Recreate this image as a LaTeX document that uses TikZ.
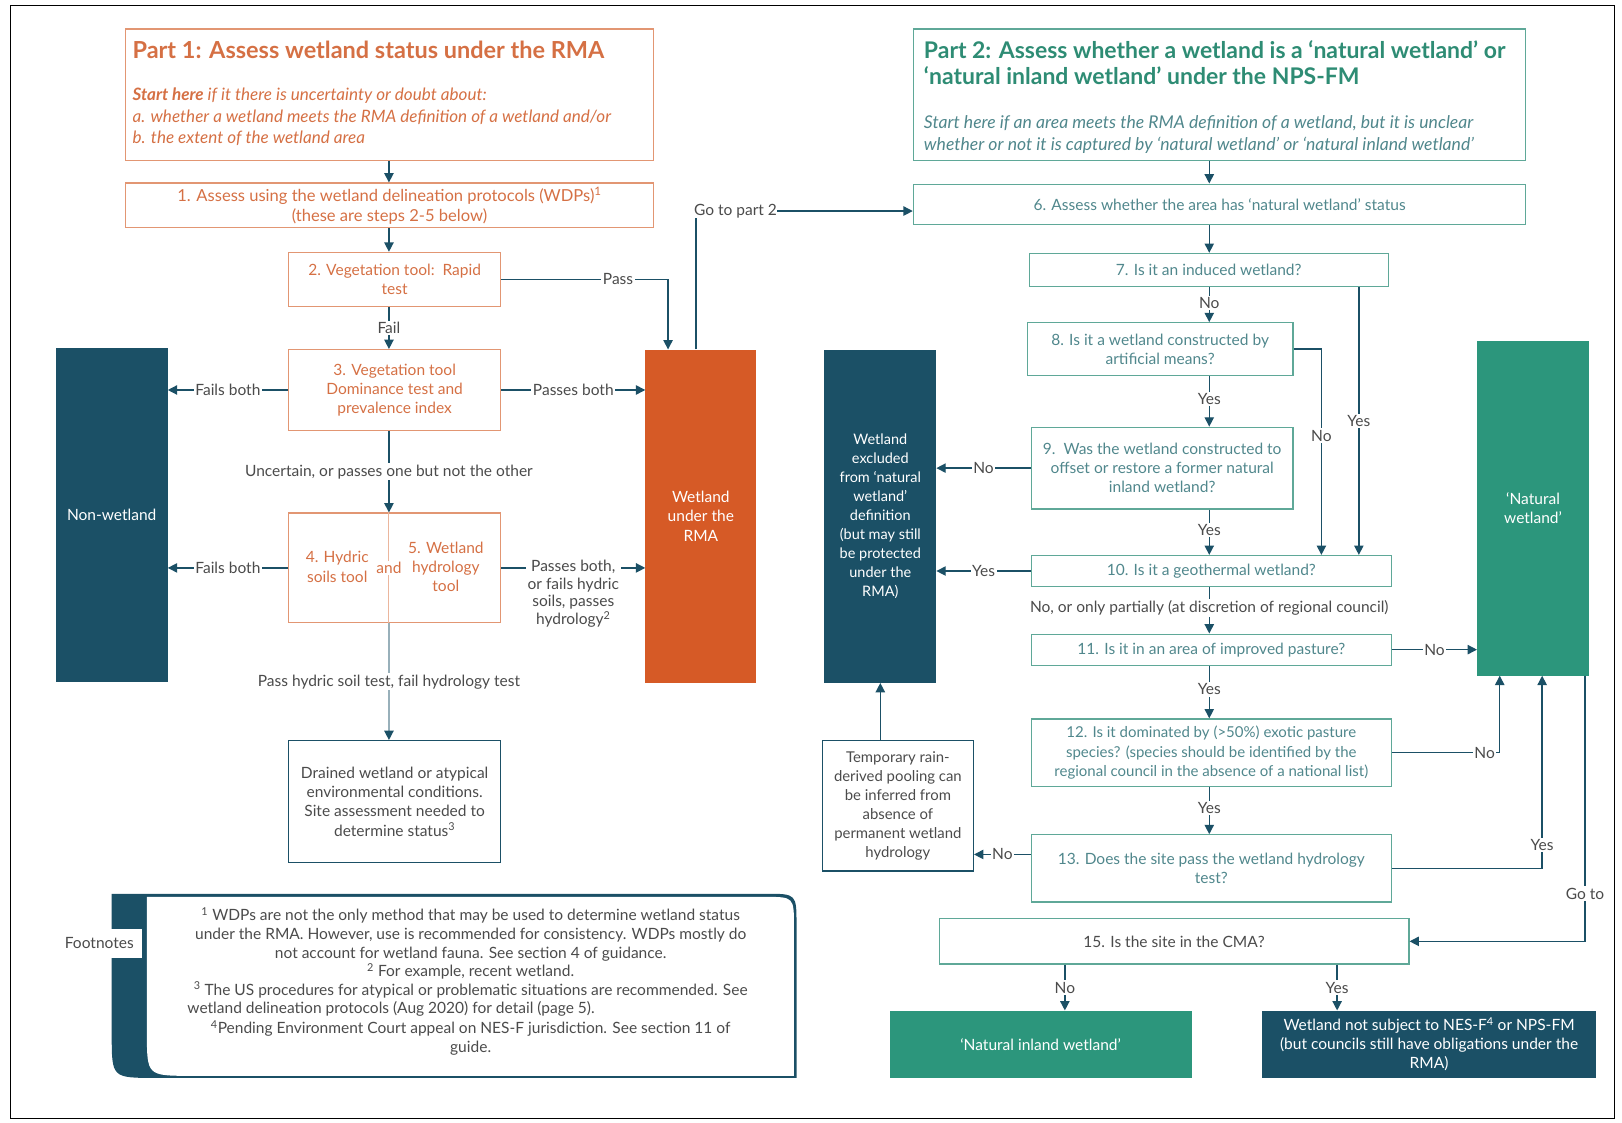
\documentclass[tikz,border=0pt]{standalone}
\usepackage{fontspec}
\setmainfont{Lato}
\usetikzlibrary{arrows.meta}
\definecolor{dkteal}{RGB}{27,80,102}
\definecolor{rmaorange}{RGB}{214,90,38}
\definecolor{orangetxt}{RGB}{213,112,68}
\definecolor{orangeln}{RGB}{226,150,115}
\definecolor{natgreen}{RGB}{44,150,124}
\definecolor{greenln}{RGB}{95,168,152}
\definecolor{greentxt}{RGB}{46,140,116}
\definecolor{boxtxt}{RGB}{80,135,140}
\definecolor{greytxt}{RGB}{75,75,75}

\begin{document}
\begin{tikzpicture}
  [x=1pt,y=-1pt,
   every node/.style={inner sep=0pt,align=center,font=\fontsize{15}{18.5}\selectfont},
   sz/.style 2 args={minimum width=#1pt,minimum height=#2pt},
   obox/.style={draw=orangeln,line width=1.2pt,text=orangetxt},
   gbox/.style={draw=greenln,line width=1.2pt,text=boxtxt},
   dbox/.style={draw=dkteal,line width=1.2pt,text=greytxt},
   lbl/.style={fill=white,text=greytxt,inner sep=1.5pt,font=\fontsize{15}{17}\selectfont},
   arr/.style={draw=dkteal,line width=1.3pt,-{Triangle[length=9pt,width=9pt,color=dkteal]}},
   ln/.style={draw=dkteal,line width=1.3pt}]
  \useasboundingbox (0,0) rectangle (1568,1085);
  \draw[line width=1pt] (10,5) rectangle (1561,1081);
  \coordinate (lspine) at (376,0);
  \coordinate (spine) at (1169,0);

  \node[obox,sz={511}{127}] (p1) at (376.5,91.5) {};
  \node[anchor=west,text=orangetxt,font=\bfseries\fontsize{22.7}{25}\selectfont] (p1title) at (128,48) {Part 1: Assess wetland status under the RMA};
  \node[anchor=west,align=left,text=orangetxt,font=\itshape\fontsize{16.5}{20.5}\selectfont] (p1start) at (128,113)
    {\textbf{Start here} if it there is uncertainty or doubt about:\\a. whether a wetland meets the RMA definition of a wetland and/or\\b. the extent of the wetland area};
  \node[obox,sz={511}{43},font=\fontsize{16}{19}\selectfont] (s1) at (376.5,198.5) {1. Assess using the wetland delineation protocols (WDPs)\textsuperscript{1}\\(these are steps 2-5 below)};
  \node[obox,sz={205}{52}] (s2) at (381.5,270) {2. Vegetation tool:\ \ Rapid\\test};
  \node[obox,sz={205}{78}] (s3) at (381.5,377) {3. Vegetation tool\\Dominance test and\\prevalence index};
  \node[obox,sz={205}{106}] (s45) at (381.5,549) {};
  \draw[orangeln!70,line width=1pt] (s45.north -| lspine) -- (s45.south -| lspine);
  \node[text=orangetxt] (s4) at (326,548) {4. Hydric\\soils tool};
  \node[text=orangetxt] (s5) at (431,548) {5. Wetland\\hydrology\\tool};
  \node[text=orangetxt,fill=white,inner sep=1pt] (sand) at (376,549) {and};
  \node[dbox,sz={205}{118}] (drained) at (381.5,775) {Drained wetland or atypical\\environmental conditions.\\Site assessment needed to\\determine status\textsuperscript{3}};
  \node[fill=dkteal,text=white,sz={108}{323}] (nonwet) at (108,497.5) {Non-wetland};
  \node[fill=rmaorange,text=white,sz={107}{322}] (wrma) at (677.5,499) {Wetland\\under the\\RMA};

  \node[gbox,sz={592}{127}] (p2) at (1179,91.5) {};
  \node[anchor=west,align=left,text=greentxt,font=\bfseries\fontsize{22.2}{25}\selectfont] (p2title) at (893,60.5)
    {Part 2: Assess whether a wetland is a `natural wetland' or\\`natural inland wetland' under the NPS-FM};
  \node[anchor=west,align=left,text=boxtxt,font=\itshape\fontsize{17}{20.5}\selectfont] (p2start) at (893,130)
    {Start here if an area meets the RMA definition of a wetland, but it is unclear\\whether or not it is captured by `natural wetland' or `natural inland wetland'};
  \node[gbox,sz={592}{39}] (s6) at (1179,197.5) {6. Assess whether the area has `natural wetland' status};
  \node[gbox,sz={347}{32}] (s7) at (1168.5,261) {7. Is it an induced wetland?};
  \node[gbox,sz={257}{51}] (s8) at (1121.5,337.5) {8. Is it a wetland constructed by\\artificial means?};
  \node[gbox,sz={253}{79}] (s9) at (1123.5,452.5) {9.\ \ Was the wetland constructed to\\offset or restore a former natural\\inland wetland?};
  \node[gbox,sz={348}{30}] (s10) at (1171,552) {10. Is it a geothermal wetland?};
  \node[gbox,sz={348}{30}] (s11) at (1171,628) {11. Is it in an area of improved pasture?};
  \node[gbox,sz={348}{65},font=\fontsize{14.5}{18.5}\selectfont] (s12) at (1171,727.5) {12. Is it dominated by (>50\%) exotic pasture\\species? (species should be identified by the\\regional council in the absence of a national list)};
  \node[gbox,sz={348}{65}] (s13) at (1171,839.5) {13. Does the site pass the wetland hydrology\\test?};
  \node[gbox,sz={454}{44},text=greytxt] (s15) at (1135,910) {15. Is the site in the CMA?};
  \node[fill=dkteal,text=white,sz={108}{322},font=\fontsize{14}{18.3}\selectfont] (excl) at (851,499) {Wetland\\excluded\\from `natural\\wetland'\\definition\\(but may still\\be protected\\under the\\RMA)};
  \node[fill=natgreen,text=white,sz={108}{323}] (natw) at (1482,491.5) {`Natural\\wetland'};
  \node[dbox,sz={146}{126},font=\fontsize{14.4}{18.4}\selectfont] (temp) at (868,779) {Temporary rain-\\derived pooling can\\be inferred from\\absence of\\permanent wetland\\hydrology};
  \node[fill=natgreen,text=white,sz={292}{65}] (natin) at (1006,1009.5) {`Natural inland wetland'};
  \node[fill=dkteal,text=white,sz={323}{65}] (notsub) at (1381.5,1009.5) {Wetland not subject to NES-F\textsuperscript{4} or NPS-FM\\(but councils still have obligations under the\\RMA)};

  \fill[dkteal] (108,864) -- (740,864) .. controls (770,864) .. (770,894) -- (770,1042) -- (150,1042) .. controls (108,1042) .. (108,1000) -- cycle;
  \fill[white] (142,867) -- (739,867) .. controls (767.5,867) .. (767.5,895.5) -- (767.5,1040) -- (185,1040) .. controls (142,1040) .. (142,998) -- cycle;
  \node[fill=white,text=greytxt,sz={83}{28}] (fnlabel) at (96,912) {Footnotes};
  \node[text=greytxt,font=\fontsize{15}{18}\selectfont] (fn1) at (455,921) {\textsuperscript{1} WDPs are not the only method that may be used to determine wetland status\\under the RMA. However, use is recommended for consistency. WDPs mostly do\\not account for wetland fauna. See section 4 of guidance.\\\textsuperscript{2} For example, recent wetland.\\\textsuperscript{3} The US procedures for atypical or problematic situations are recommended. See};
  \node[anchor=west,text=greytxt] (fn2) at (181,975) {wetland delineation protocols (Aug 2020) for detail (page 5).};
  \node[text=greytxt,font=\fontsize{15}{18}\selectfont] (fn3) at (455,1003) {\textsuperscript{4}Pending Environment Court appeal on NES-F jurisdiction. See section 11 of\\guide.};

  \draw[arr] (p1.south -| lspine) -- (s1.north -| lspine);
  \draw[arr] (s1.south -| lspine) -- (s2.north -| lspine);
  \foreach \from/\to/\txt in {s2/s3/Fail,s3/s45/{Uncertain, or passes one but not the other}}
    \draw[arr] (\from.south -| lspine) -- node[lbl]{\txt} (\to.north -| lspine);
  \draw[arr,draw=dkteal!45] (s45.south -| lspine) -- node[lbl]{Pass hydric soil test, fail hydrology test} (drained.north -| lspine);
  \draw[arr] (s2.east) -| node[lbl,pos=0.35]{Pass} ([xshift=22pt]wrma.north west);
  \draw[arr] (s3.west) -- node[lbl]{Fails both} (nonwet.east |- s3.west);
  \draw[arr] (s3.east) -- node[lbl]{Passes both} (wrma.west |- s3.east);
  \draw[arr] (s45.west) -- node[lbl]{Fails both} (nonwet.east |- s45.west);
  \draw[arr] (s45.east) -- node[lbl,anchor=north,yshift=9.5pt]{Passes both,\\or fails hydric\\soils, passes\\hydrology\textsuperscript{2}} (wrma.west |- s45.east);
  \node[lbl,inner sep=0pt] (gop2) at (711,204) {Go to part 2};
  \draw[ln] ([xshift=49pt]wrma.north west) -- ([xshift=49pt]wrma.north west |- gop2.south);
  \draw[arr] (gop2.east) -- (s6.west |- gop2.east);

  \draw[arr] (p2.south -| spine) -- (s6.north -| spine);
  \draw[arr] (s6.south -| spine) -- (s7.north -| spine);
  \foreach \from/\to/\txt in {s7/s8/No,s8/s9/Yes,s9/s10/Yes,s10/s11/{No, or only partially (at discretion of regional council)},s11/s12/Yes,s12/s13/Yes}
    \draw[arr] (\from.south -| spine) -- node[lbl,pos=0.45]{\txt} (\to.north -| spine);
  \draw[arr] (s9.west) -- node[lbl]{No} (excl.east |- s9.west);
  \draw[arr] (s10.west) -- node[lbl]{Yes} (excl.east |- s10.west);
  \draw[arr] (s8.east) -| node[lbl,pos=0.71]{No} ([xshift=281pt]s10.north west);
  \draw[arr] ([xshift=-29pt]s7.south east) -- node[lbl]{Yes} ([xshift=-29pt]s7.south east |- s10.north);
  \draw[arr] (s11.east) -- node[lbl]{No} (natw.west |- s11.east);
  \draw[arr] (s12.east) -| node[lbl,pos=0.43]{No} ([xshift=22pt]natw.south west);
  \draw[arr] (s13.east) -| node[lbl,pos=0.56]{Yes} ([xshift=63pt]natw.south west);
  \coordinate (s13no) at ([yshift=13.5pt]s13.west);
  \draw[arr] (s13no) -- node[lbl]{No} (temp.east |- s13no);
  \draw[arr] (excl.south |- temp.north) -- (excl.south);
  \draw[arr] ([xshift=-4pt]natw.south east) |- node[lbl,pos=0.41]{Go to} (s15.east);
  \draw[arr] ([xshift=122pt]s15.south west) -- node[lbl]{No} ([xshift=122pt]s15.south west |- natin.north);
  \draw[arr] ([xshift=-70pt]s15.south east) -- node[lbl]{Yes} ([xshift=-70pt]s15.south east |- notsub.north);
\end{tikzpicture}
\end{document}
